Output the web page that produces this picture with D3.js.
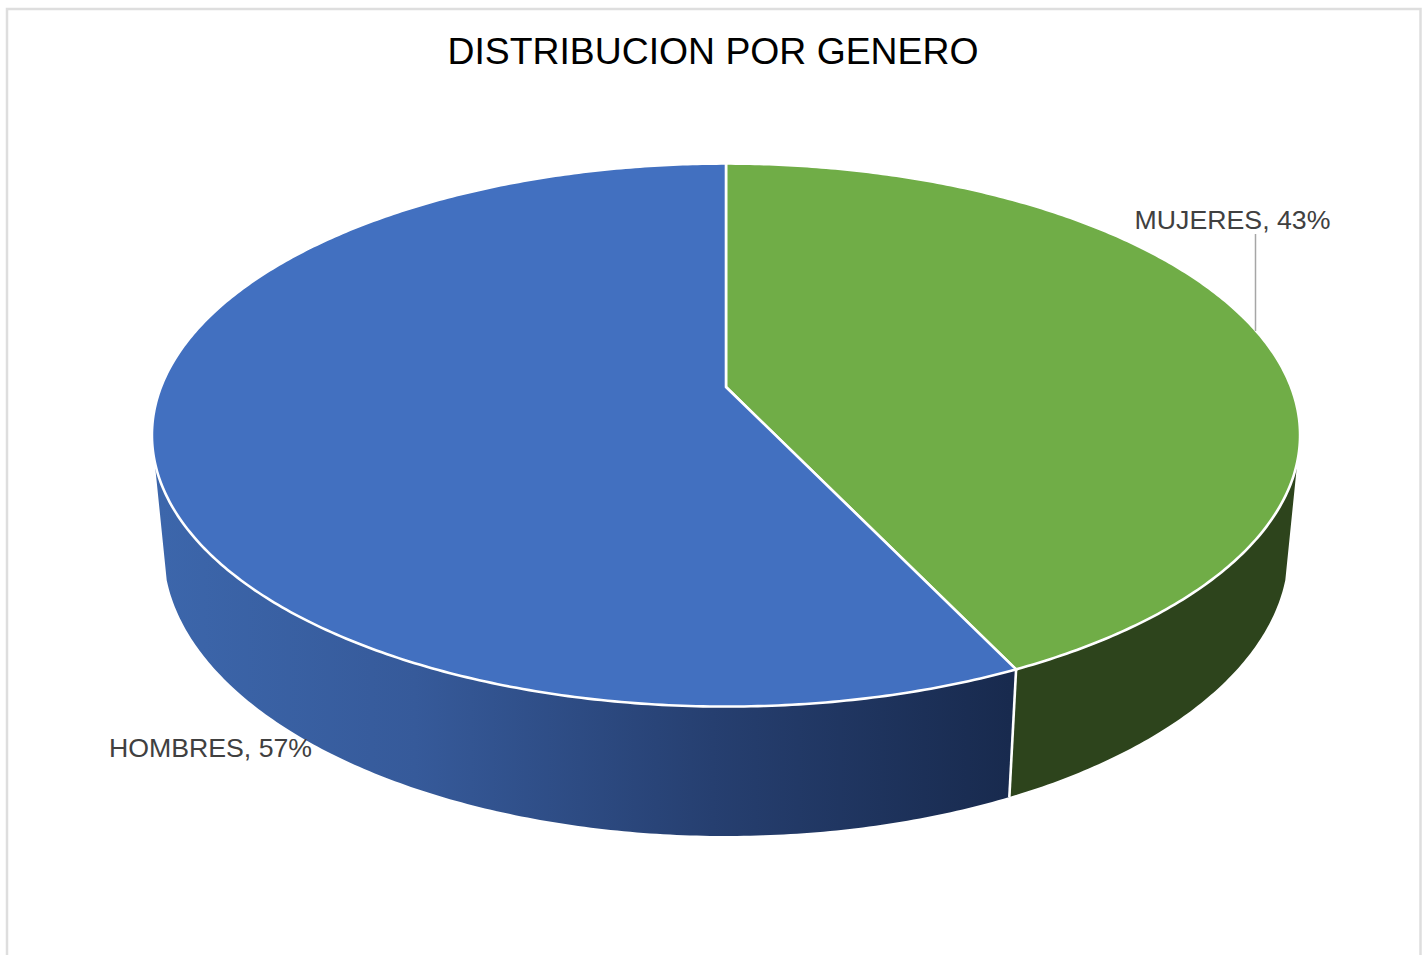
<!DOCTYPE html>
<html>
<head>
<meta charset="utf-8">
<script src="https://cdn.jsdelivr.net/npm/d3@7"></script>
<style>
  html, body { margin: 0; padding: 0; background: #fff; overflow: hidden; }
  text { font-family: "Liberation Sans", Arial, sans-serif; }
</style>
</head>
<body>
<svg id="chart"></svg>
<script>
const categories = ['MUJERES', 'HOMBRES'];
const shares = [42.9, 57.1];
const chartTitle = 'DISTRIBUCION POR GENERO';

const w = 1422;
const h = 955;

const topColors = ['#70ad47', '#4270c0'];

const svg = d3.select('#chart').attr('width', w).attr('height', h).style('display', 'block');

// chart frame, runs off the bottom of the picture
svg.append('path')
  .attr('d', `M7,${h + 5}V9H1420.5V${h + 5}`)
  .attr('fill', 'none')
  .attr('stroke', '#dedede')
  .attr('stroke-width', 2.5);

svg.append('text')
  .attr('x', 713)
  .attr('y', 64)
  .attr('text-anchor', 'middle')
  .attr('font-size', 37.35)
  .attr('fill', '#000')
  .text(chartTitle);

// perspective camera: z = 0 is the top face, z = 1 the bottom of the disc
const cx = 726, apexY = 387;
const k = 565, m = 263, p = 0.177, q = 0.02, n = 115.5;

function project(angle, r, z) {
  const X = r * Math.sin(angle);
  const Y = -r * Math.cos(angle);
  const d = 1 + q * z - p * Y;
  return [cx + k * X / d, apexY + (m * Y + n * z) / d];
}

const pie = d3.pie().sort(null).startAngle(0).endAngle(2 * Math.PI);
const arcs = pie(shares);
const line = d3.line();

function arcPoints(a0, a1, z) {
  const steps = Math.max(2, Math.ceil(Math.abs(a1 - a0) / 0.01));
  return d3.range(steps + 1).map(i => project(a0 + (a1 - a0) * i / steps, 1, z));
}

const defs = svg.append('defs');
const blueRim = defs.append('linearGradient')
  .attr('id', 'rimBlue')
  .attr('gradientUnits', 'userSpaceOnUse')
  .attr('x1', 160).attr('x2', 1010)
  .attr('y1', 0).attr('y2', 0);
blueRim.append('stop').attr('offset', 0).attr('stop-color', '#3c66ab');
blueRim.append('stop').attr('offset', 0.3).attr('stop-color', '#365a9a');
blueRim.append('stop').attr('offset', 0.65).attr('stop-color', '#263f70');
blueRim.append('stop').attr('offset', 1).attr('stop-color', '#182a4e');

// wall facing the viewer, cut at the silhouette; the tangent sits a bit
// further forward on the bottom circle than on the top one
const topEdge = Math.acos(-p);
const bottomEdge = topEdge + 0.1;
const rimFills = ['#2d441c', 'url(#rimBlue)'];

svg.append('g').selectAll('path')
  .data(arcs)
  .join('path')
  .attr('d', d => {
    const t0 = Math.max(d.startAngle, topEdge);
    const t1 = Math.min(d.endAngle, 2 * Math.PI - topEdge);
    const b0 = Math.max(d.startAngle, bottomEdge);
    const b1 = Math.min(d.endAngle, 2 * Math.PI - bottomEdge);
    return line(arcPoints(t0, t1, 0).concat(arcPoints(b1, b0, 1))) + 'Z';
  })
  .attr('fill', (d, i) => rimFills[i]);

// white seam between the two walls
svg.append('path')
  .attr('d', line([project(arcs[1].startAngle, 1, 0), project(arcs[1].startAngle, 1, 1)]))
  .attr('stroke', '#fff')
  .attr('stroke-width', 2.6);

svg.append('g').selectAll('path')
  .data(arcs)
  .join('path')
  .attr('d', d => line([project(0, 0, 0)].concat(arcPoints(d.startAngle, d.endAngle, 0))) + 'Z')
  .attr('fill', (d, i) => topColors[i])
  .attr('stroke', '#fff')
  .attr('stroke-width', 2.6)
  .attr('stroke-linejoin', 'miter');

// leader line for the MUJERES label
svg.append('line')
  .attr('x1', 1255.5).attr('x2', 1255.5)
  .attr('y1', 234).attr('y2', 331)
  .attr('stroke', '#a6a6a6')
  .attr('stroke-width', 1.5);

const labelAt = [[1232.5, 229], [210.5, 757]];
svg.append('g').selectAll('text')
  .data(arcs)
  .join('text')
  .attr('x', (d, i) => labelAt[i][0])
  .attr('y', (d, i) => labelAt[i][1])
  .attr('text-anchor', 'middle')
  .attr('font-size', 26.7)
  .attr('fill', '#404040')
  .text((d, i) => `${categories[i]}, ${Math.round(d.value)}%`);
</script>
</body>
</html>
